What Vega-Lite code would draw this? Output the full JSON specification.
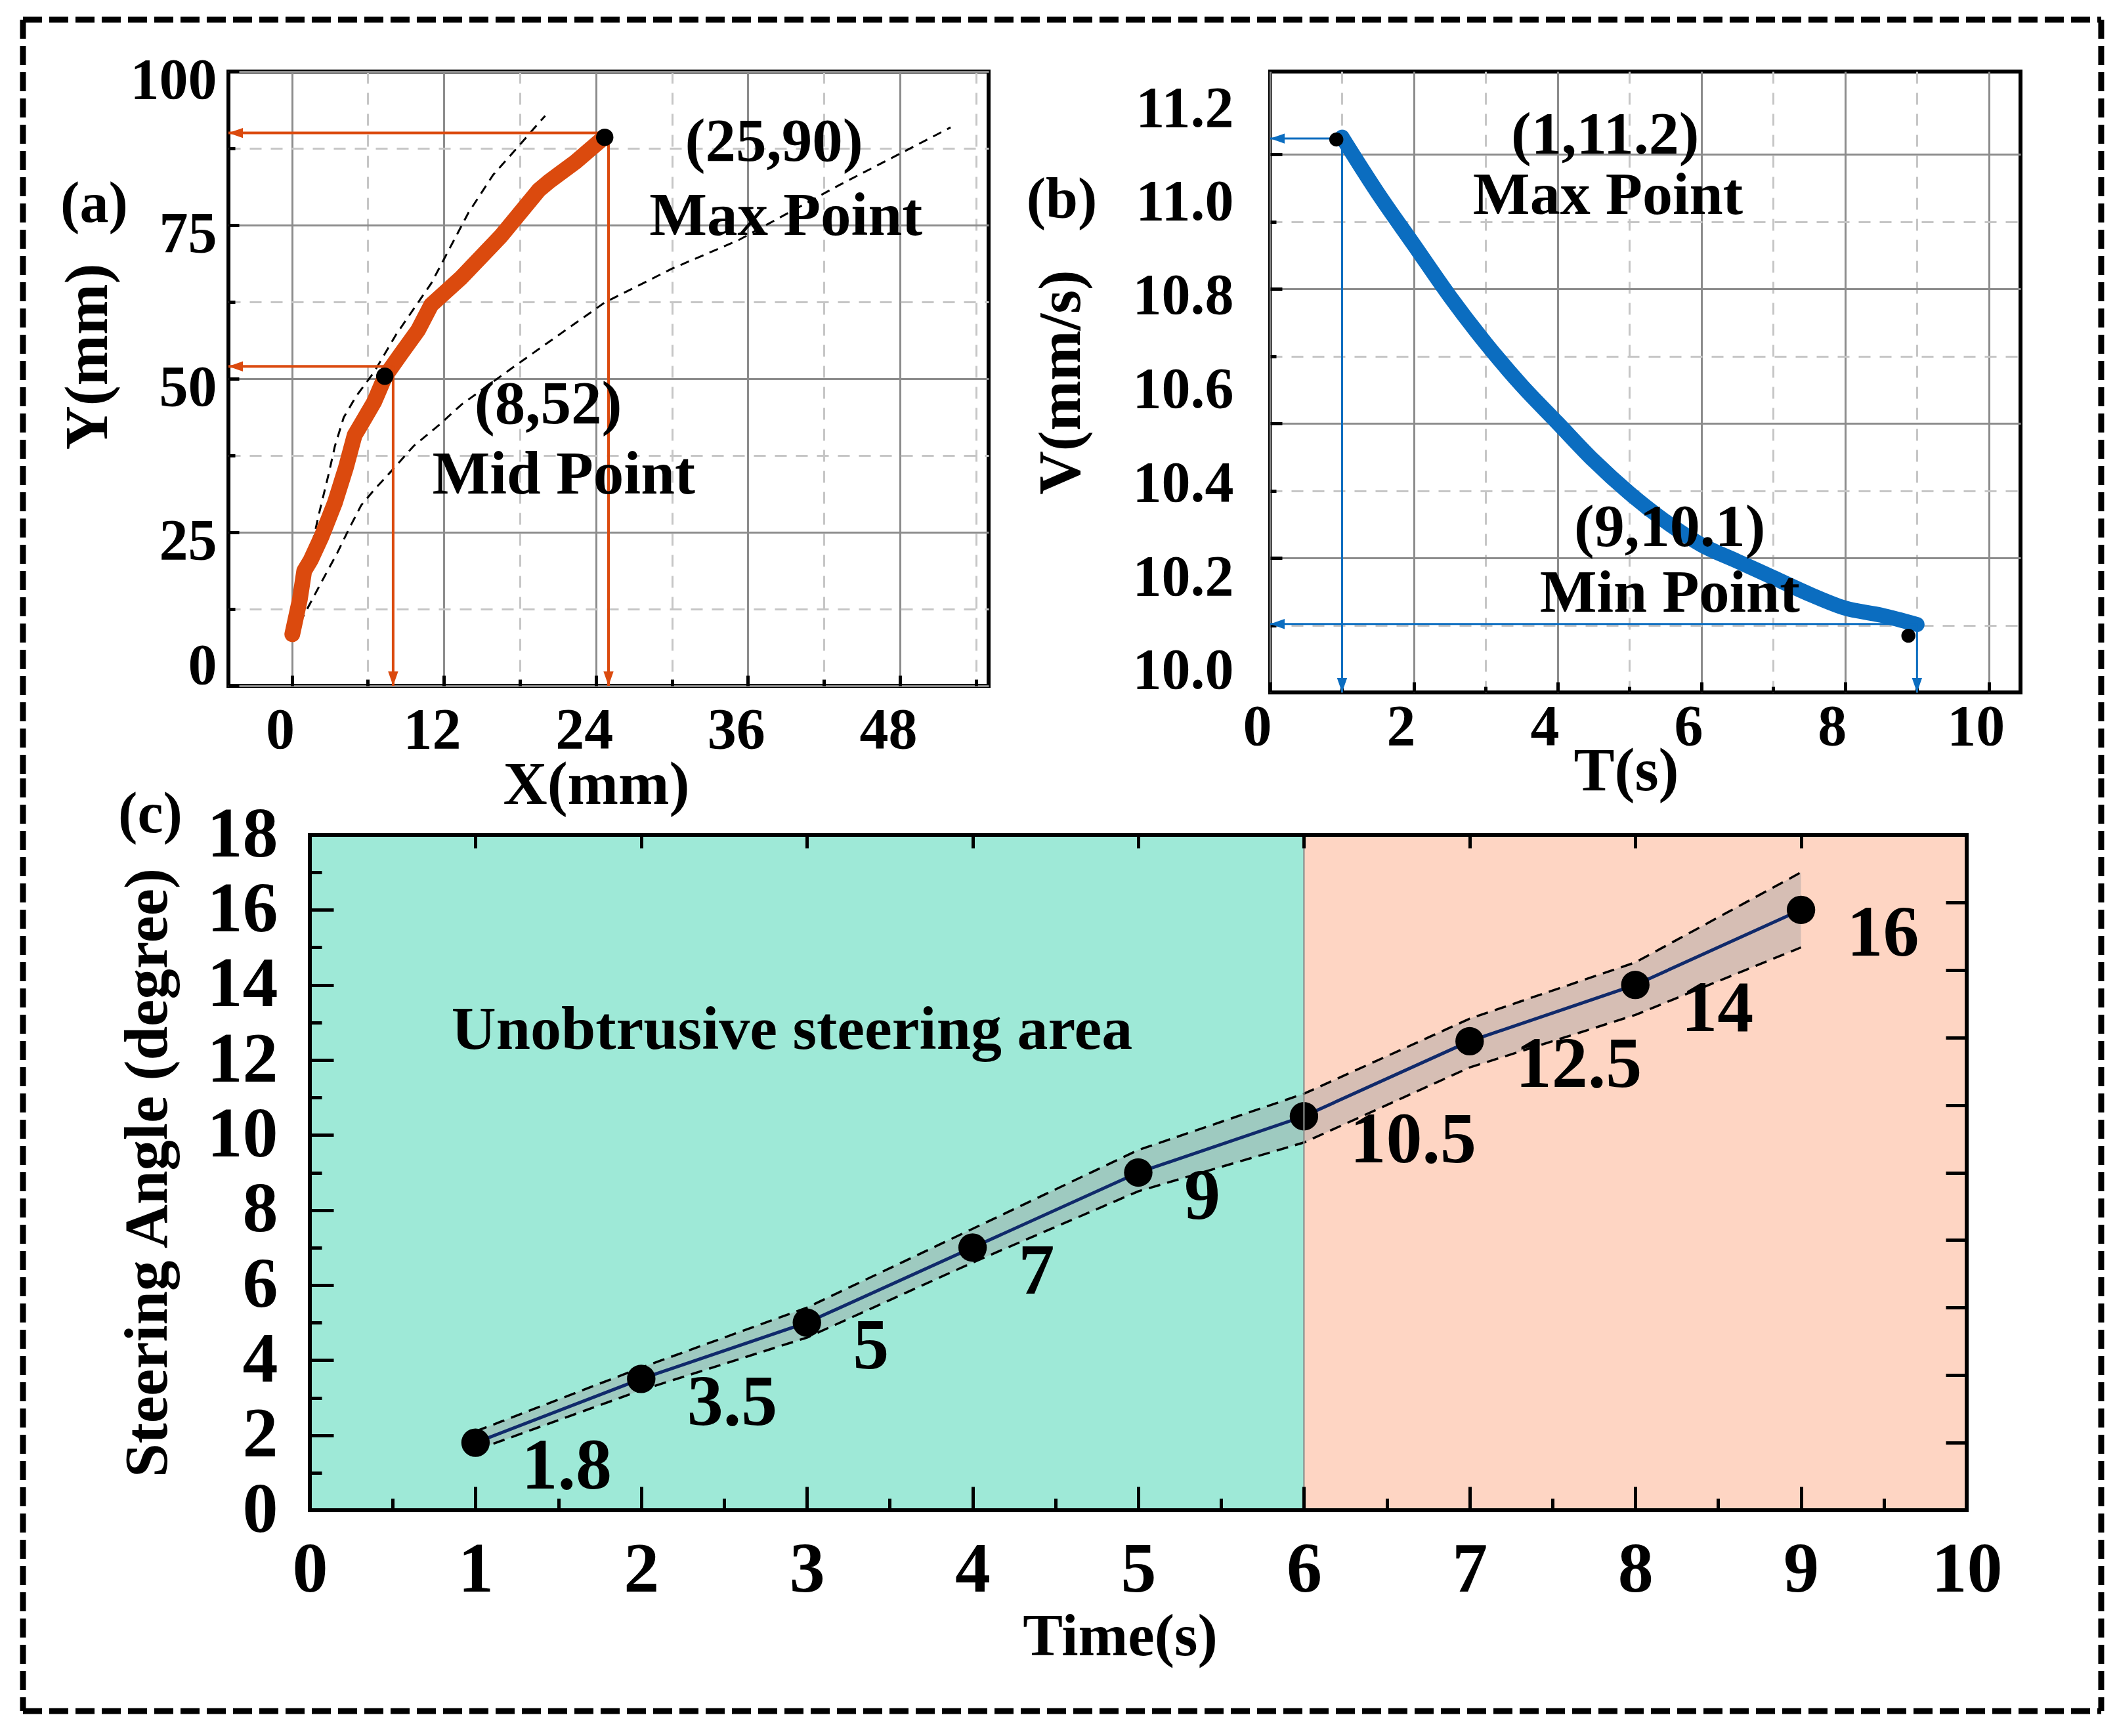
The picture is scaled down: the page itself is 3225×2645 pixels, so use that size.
{
  "$schema": "https://vega.github.io/schema/vega-lite/v6.json",
  "background": "white",
  "padding": {"left": 27, "top": 22, "right": 10, "bottom": 10},
  "spacing": -65,
  "datasets": {
    "pathA": [
      {"x": 0.04, "y": 8.4}, {"x": 0.64, "y": 14.1}, {"x": 0.98, "y": 18.7}, {"x": 1.5, "y": 20.5},
      {"x": 2.37, "y": 24.4}, {"x": 3.4, "y": 29.8}, {"x": 4.27, "y": 35.5}, {"x": 4.96, "y": 40.8},
      {"x": 5.48, "y": 42.6}, {"x": 6.5, "y": 46.2}, {"x": 7.37, "y": 50.4}, {"x": 8.6, "y": 54},
      {"x": 9.97, "y": 57.9}, {"x": 11.0, "y": 62}, {"x": 13.4, "y": 66.5}, {"x": 16.5, "y": 73.2},
      {"x": 19.5, "y": 80.7}, {"x": 20.3, "y": 82.1}, {"x": 22.4, "y": 85.3}, {"x": 24.6, "y": 89.2}
    ],
    "boundsA": [
      {"side": "upper", "x": 0.04, "y": 8}, {"side": "upper", "x": 2.1, "y": 27.6}, {"side": "upper", "x": 2.9, "y": 34.4},
      {"side": "upper", "x": 3.4, "y": 39}, {"side": "upper", "x": 4.1, "y": 43.7}, {"side": "upper", "x": 5.1, "y": 47.2},
      {"side": "upper", "x": 6.5, "y": 51.1}, {"side": "upper", "x": 8.24, "y": 57.2}, {"side": "upper", "x": 11, "y": 65.5},
      {"side": "upper", "x": 13.94, "y": 77}, {"side": "upper", "x": 15.9, "y": 83.2}, {"side": "upper", "x": 17.5, "y": 86.9},
      {"side": "upper", "x": 19.1, "y": 90.7}, {"side": "upper", "x": 20, "y": 92.8},
      {"side": "lower", "x": 0.04, "y": 8}, {"side": "lower", "x": 1.16, "y": 12.3}, {"side": "lower", "x": 2.37, "y": 17},
      {"side": "lower", "x": 3.58, "y": 21.6}, {"side": "lower", "x": 4.6, "y": 25.9}, {"side": "lower", "x": 5.48, "y": 29.4},
      {"side": "lower", "x": 6.5, "y": 31.9}, {"side": "lower", "x": 8.1, "y": 35.5}, {"side": "lower", "x": 9.6, "y": 39},
      {"side": "lower", "x": 11.7, "y": 42.6}, {"side": "lower", "x": 13.4, "y": 45.8}, {"side": "lower", "x": 17.7, "y": 52.2},
      {"side": "lower", "x": 21.4, "y": 57.6}, {"side": "lower", "x": 24.7, "y": 62.4}, {"side": "lower", "x": 30, "y": 67.9},
      {"side": "lower", "x": 35.3, "y": 72.6}, {"side": "lower", "x": 43.2, "y": 81.5}, {"side": "lower", "x": 52, "y": 90.9}
    ],
    "arrowsA": [{"x": 8, "y": 52}, {"x": 25, "y": 90}],
    "dotsA": [{"x": 7.34, "y": 50.4}, {"x": 24.7, "y": 89.3}],
    "notesA": [
      {"x": 38.06, "y": 88.5, "label": "(25,90)"},
      {"x": 39.0, "y": 76.4, "label": "Max Point"},
      {"x": 20.24, "y": 45.76, "label": "(8,52)"},
      {"x": 21.46, "y": 34.26, "label": "Mid Point"}
    ],
    "curveB": [
      {"t": 1.0, "v": 11.14}, {"t": 1.5, "v": 11.02}, {"t": 2.0, "v": 10.91}, {"t": 2.5, "v": 10.8},
      {"t": 3.0, "v": 10.7}, {"t": 3.5, "v": 10.61}, {"t": 4.0, "v": 10.53}, {"t": 4.5, "v": 10.45},
      {"t": 5.0, "v": 10.38}, {"t": 5.5, "v": 10.32}, {"t": 6.0, "v": 10.27}, {"t": 6.5, "v": 10.235},
      {"t": 7.0, "v": 10.2}, {"t": 7.5, "v": 10.165}, {"t": 8.0, "v": 10.135}, {"t": 8.5, "v": 10.12},
      {"t": 9.0, "v": 10.1}
    ],
    "arrowsB": [{"t": 1.0, "v": 11.137}, {"t": 9.0, "v": 10.101}],
    "dotsB": [{"t": 0.92, "v": 11.135}, {"t": 8.88, "v": 10.076}],
    "notesB": [
      {"t": 4.66, "v": 11.144, "label": "(1,11.2)"},
      {"t": 4.7, "v": 11.015, "label": "Max Point"},
      {"t": 5.56, "v": 10.307, "label": "(9,10.1)"},
      {"t": 5.56, "v": 10.167, "label": "Min Point"}
    ],
    "zonesC": [
      {"start": 0, "end": 6, "zone": "Unobtrusive"},
      {"start": 6, "end": 10, "zone": "Obtrusive"}
    ],
    "angleC": [
      {"t": 1, "angle": 1.8, "lo": 1.6, "hi": 2.1},
      {"t": 2, "angle": 3.5, "lo": 3.2, "hi": 3.8},
      {"t": 3, "angle": 5, "lo": 4.6, "hi": 5.4},
      {"t": 4, "angle": 7, "lo": 6.6, "hi": 7.5},
      {"t": 5, "angle": 9, "lo": 8.5, "hi": 9.6},
      {"t": 6, "angle": 10.5, "lo": 9.8, "hi": 11.1},
      {"t": 7, "angle": 12.5, "lo": 11.8, "hi": 13.1},
      {"t": 8, "angle": 14, "lo": 13.2, "hi": 14.6},
      {"t": 9, "angle": 16, "lo": 15, "hi": 17}
    ]
  },
  "vconcat": [
    {
      "bounds": "flush",
      "spacing": 429,
      "hconcat": [
        {
          "width": 1158,
          "height": 936,
          "resolve": {"axis": {"x": "independent", "y": "independent"}},
          "layer": [
            {
              "data": {"name": "boundsA"},
              "mark": {"type": "line", "stroke": "black", "strokeWidth": 3, "strokeDash": [14, 10]},
              "encoding": {
                "x": {
                  "field": "x", "type": "quantitative",
                  "scale": {"domain": [-5, 55]},
                  "axis": {
                    "values": [0, 6, 12, 18, 24, 30, 36, 42, 48, 54],
                    "format": ".0f",
                    "labelExpr": "datum.value % 12 == 0 ? datum.label : ''",
                    "grid": true, "gridWidth": 3,
                    "gridColor": {"condition": {"test": "datum.value % 12 != 0", "value": "#c6c6c6"}, "value": "#8c8c8c"},
                    "gridDash": {"condition": {"test": "datum.value % 12 != 0", "value": [18, 14]}, "value": []},
                    "tickSize": {"condition": {"test": "datum.value % 12 != 0", "value": -10}, "value": -16},
                    "labelFontSize": 88, "labelPadding": 40, "labelOffset": -18,
                    "title": "X(mm)", "titleFontSize": 93, "titlePadding": -12, "titleX": 560
                  }
                },
                "y": {
                  "field": "y", "type": "quantitative",
                  "scale": {"domain": [0, 100]},
                  "axis": {
                    "values": [0, 12.5, 25, 37.5, 50, 62.5, 75, 87.5, 100],
                    "format": ".0f",
                    "labelExpr": "datum.value % 25 == 0 ? datum.label : ''",
                    "grid": true, "gridWidth": 3,
                    "gridColor": {"condition": {"test": "datum.value % 25 != 0", "value": "#c6c6c6"}, "value": "#8c8c8c"},
                    "gridDash": {"condition": {"test": "datum.value % 25 != 0", "value": [18, 14]}, "value": []},
                    "tickSize": {"condition": {"test": "datum.value % 25 != 0", "value": -10}, "value": -16},
                    "labelFontSize": 88, "labelPadding": 34,
                    "labelOffset": {"condition": {"test": "datum.value == 0", "value": -30}, "value": 14},
                    "title": "Y(mm)", "titleFontSize": 93, "titlePadding": 16, "titleY": 434
                  }
                },
                "detail": {"field": "side"}
              }
            },
            {
              "data": {"name": "pathA"},
              "mark": {"type": "line", "stroke": "#db4a0e", "strokeWidth": 24, "strokeCap": "round", "strokeJoin": "round"},
              "encoding": {
                "x": {"field": "x", "type": "quantitative", "scale": {"domain": [-5, 55]}, "axis": null},
                "y": {"field": "y", "type": "quantitative", "scale": {"domain": [0, 100]}, "axis": null}
              }
            },
            {
              "data": {"name": "arrowsA"},
              "mark": {"type": "rule", "stroke": "#db4a0e", "strokeWidth": 4},
              "encoding": {
                "x": {"field": "x", "type": "quantitative", "scale": {"domain": [-5, 55]}, "axis": null},
                "x2": {"datum": -5},
                "y": {"field": "y", "type": "quantitative", "scale": {"domain": [0, 100]}, "axis": null}
              }
            },
            {
              "data": {"name": "arrowsA"},
              "mark": {"type": "rule", "stroke": "#db4a0e", "strokeWidth": 4},
              "encoding": {
                "x": {"field": "x", "type": "quantitative", "scale": {"domain": [-5, 55]}, "axis": null},
                "y": {"field": "y", "type": "quantitative", "scale": {"domain": [0, 100]}, "axis": null},
                "y2": {"datum": 0}
              }
            },
            {
              "data": {"name": "arrowsA"},
              "mark": {"type": "point", "shape": "M0,0L2,-0.7L2,0.7Z", "size": 484, "filled": true, "opacity": 1, "color": "#db4a0e"},
              "encoding": {
                "x": {"datum": -5, "type": "quantitative", "scale": {"domain": [-5, 55]}, "axis": null},
                "y": {"field": "y", "type": "quantitative", "scale": {"domain": [0, 100]}, "axis": null}
              }
            },
            {
              "data": {"name": "arrowsA"},
              "mark": {"type": "point", "shape": "M0,0L-0.7,-2L0.7,-2Z", "size": 484, "filled": true, "opacity": 1, "color": "#db4a0e"},
              "encoding": {
                "x": {"field": "x", "type": "quantitative", "scale": {"domain": [-5, 55]}, "axis": null},
                "y": {"datum": 0, "type": "quantitative", "scale": {"domain": [0, 100]}, "axis": null}
              }
            },
            {
              "data": {"name": "dotsA"},
              "mark": {"type": "point", "shape": "circle", "size": 700, "filled": true, "opacity": 1, "color": "black"},
              "encoding": {
                "x": {"field": "x", "type": "quantitative", "scale": {"domain": [-5, 55]}, "axis": null},
                "y": {"field": "y", "type": "quantitative", "scale": {"domain": [0, 100]}, "axis": null}
              }
            },
            {
              "data": {"name": "notesA"},
              "mark": {"type": "text", "fontSize": 93, "align": "center", "baseline": "middle"},
              "encoding": {
                "x": {"field": "x", "type": "quantitative", "scale": {"domain": [-5, 55]}, "axis": null},
                "y": {"field": "y", "type": "quantitative", "scale": {"domain": [0, 100]}, "axis": null},
                "text": {"field": "label"}
              }
            },
            {
              "data": {"values": [{}]},
              "mark": {"type": "text", "text": "(a)", "fontSize": 88, "align": "center", "baseline": "middle", "clip": false},
              "encoding": {
                "x": {"datum": -15.6, "type": "quantitative", "scale": {"domain": [-5, 55]}, "axis": null},
                "y": {"datum": 78.3, "type": "quantitative", "scale": {"domain": [0, 100]}, "axis": null}
              }
            },
            {
              "data": {"values": [{}]},
              "mark": {"type": "rule", "stroke": "black", "strokeWidth": 9, "strokeDash": [29, 11], "clip": false},
              "encoding": {
                "x": {"datum": -21.22, "type": "quantitative", "scale": {"domain": [-5, 55]}, "axis": null},
                "x2": {"datum": 142.82},
                "y": {"datum": 108.44, "type": "quantitative", "scale": {"domain": [0, 100]}, "axis": null}
              }
            },
            {
              "data": {"values": [{}]},
              "mark": {"type": "rule", "stroke": "black", "strokeWidth": 9, "strokeDash": [29, 11], "clip": false},
              "encoding": {
                "x": {"datum": -21.22, "type": "quantitative", "scale": {"domain": [-5, 55]}, "axis": null},
                "y": {"datum": 108.44, "type": "quantitative", "scale": {"domain": [0, 100]}, "axis": null},
                "y2": {"datum": -14.74}
              }
            },
            {
              "data": {"values": [{}]},
              "mark": {"type": "rule", "stroke": "black", "strokeWidth": 9, "strokeDash": [29, 11], "clip": false},
              "encoding": {
                "x": {"datum": 142.82, "type": "quantitative", "scale": {"domain": [-5, 55]}, "axis": null},
                "y": {"datum": 108.44, "type": "quantitative", "scale": {"domain": [0, 100]}, "axis": null},
                "y2": {"datum": -14.74}
              }
            }
          ]
        },
        {
          "width": 1143,
          "height": 946,
          "resolve": {"axis": {"x": "independent", "y": "independent"}},
          "layer": [
            {
              "data": {"name": "curveB"},
              "mark": {"type": "line", "stroke": "#0b6dc0", "strokeWidth": 23, "strokeCap": "round", "strokeJoin": "round", "interpolate": "monotone"},
              "encoding": {
                "x": {
                  "field": "t", "type": "quantitative",
                  "scale": {"domain": [0, 10.44]},
                  "axis": {
                    "values": [0, 1, 2, 3, 4, 5, 6, 7, 8, 9, 10],
                    "labelExpr": "datum.value % 2 == 0 ? datum.label : ''",
                    "grid": true, "gridWidth": 3,
                    "gridColor": {"condition": {"test": "datum.value % 2 != 0", "value": "#c6c6c6"}, "value": "#8c8c8c"},
                    "gridDash": {"condition": {"test": "datum.value % 2 != 0", "value": [18, 14]}, "value": []},
                    "tickSize": {"condition": {"test": "datum.value % 2 != 0", "value": -9}, "value": -16},
                    "labelFontSize": 88, "labelPadding": 25, "labelOffset": -20,
                    "title": "T(s)", "titleFontSize": 93, "titlePadding": -29, "titleX": 542
                  }
                },
                "y": {
                  "field": "v", "type": "quantitative",
                  "scale": {"domain": [9.955, 11.28]},
                  "axis": {
                    "orient": "left",
                    "values": [10.098, 10.242, 10.385, 10.529, 10.672, 10.816, 10.959, 11.103],
                    "labels": false,
                    "grid": true, "gridWidth": 3,
                    "gridColor": {"condition": {"test": "indexof([10.098, 10.385, 10.672, 10.959], datum.value) >= 0", "value": "#c6c6c6"}, "value": "#8c8c8c"},
                    "gridDash": {"condition": {"test": "indexof([10.098, 10.385, 10.672, 10.959], datum.value) >= 0", "value": [18, 14]}, "value": []},
                    "tickSize": {"condition": {"test": "indexof([10.098, 10.385, 10.672, 10.959], datum.value) >= 0", "value": -9}, "value": -18},
                    "title": null
                  }
                }
              }
            },
            {
              "data": {"name": "arrowsB"},
              "mark": {"type": "rule", "stroke": "#0b6dc0", "strokeWidth": 3},
              "encoding": {
                "x": {"field": "t", "type": "quantitative", "scale": {"domain": [0, 10.44]}, "axis": null},
                "x2": {"datum": 0},
                "y": {
                  "field": "v", "type": "quantitative",
                  "scale": {"domain": [9.955, 11.28]},
                  "axis": {
                    "orient": "left",
                    "values": [10, 10.2, 10.4, 10.6, 10.8, 11, 11.2],
                    "format": ".1f",
                    "grid": false, "ticks": false,
                    "labelFontSize": 88, "labelPadding": 56,
                    "title": "V(mm/s)", "titleFontSize": 92, "titlePadding": 72
                  }
                }
              }
            },
            {
              "data": {"name": "arrowsB"},
              "mark": {"type": "rule", "stroke": "#0b6dc0", "strokeWidth": 3},
              "encoding": {
                "x": {"field": "t", "type": "quantitative", "scale": {"domain": [0, 10.44]}, "axis": null},
                "y": {"field": "v", "type": "quantitative", "scale": {"domain": [9.955, 11.28]}, "axis": null},
                "y2": {"datum": 9.955}
              }
            },
            {
              "data": {"name": "arrowsB"},
              "mark": {"type": "point", "shape": "M0,0L2,-0.7L2,0.7Z", "size": 484, "filled": true, "opacity": 1, "color": "#0b6dc0"},
              "encoding": {
                "x": {"datum": 0, "type": "quantitative", "scale": {"domain": [0, 10.44]}, "axis": null},
                "y": {"field": "v", "type": "quantitative", "scale": {"domain": [9.955, 11.28]}, "axis": null}
              }
            },
            {
              "data": {"name": "arrowsB"},
              "mark": {"type": "point", "shape": "M0,0L-0.7,-2L0.7,-2Z", "size": 484, "filled": true, "opacity": 1, "color": "#0b6dc0"},
              "encoding": {
                "x": {"field": "t", "type": "quantitative", "scale": {"domain": [0, 10.44]}, "axis": null},
                "y": {"datum": 9.955, "type": "quantitative", "scale": {"domain": [9.955, 11.28]}, "axis": null}
              }
            },
            {
              "data": {"name": "dotsB"},
              "mark": {"type": "point", "shape": "circle", "size": 460, "filled": true, "opacity": 1, "color": "black"},
              "encoding": {
                "x": {"field": "t", "type": "quantitative", "scale": {"domain": [0, 10.44]}, "axis": null},
                "y": {"field": "v", "type": "quantitative", "scale": {"domain": [9.955, 11.28]}, "axis": null}
              }
            },
            {
              "data": {"name": "notesB"},
              "mark": {"type": "text", "fontSize": 92, "align": "center", "baseline": "middle"},
              "encoding": {
                "x": {"field": "t", "type": "quantitative", "scale": {"domain": [0, 10.44]}, "axis": null},
                "y": {"field": "v", "type": "quantitative", "scale": {"domain": [9.955, 11.28]}, "axis": null},
                "text": {"field": "label"}
              }
            },
            {
              "data": {"values": [{}]},
              "mark": {"type": "text", "text": "(b)", "fontSize": 88, "align": "center", "baseline": "middle", "clip": false},
              "encoding": {
                "x": {"datum": -2.9, "type": "quantitative", "scale": {"domain": [0, 10.44]}, "axis": null},
                "y": {"datum": 11.004, "type": "quantitative", "scale": {"domain": [9.955, 11.28]}, "axis": null}
              }
            }
          ]
        }
      ]
    },
    {
      "width": 2648,
      "height": 1029,
      "view": {"stroke": null},
      "resolve": {"axis": {"x": "independent", "y": "independent"}},
      "layer": [
        {
          "data": {"name": "zonesC"},
          "mark": {"type": "rect"},
          "encoding": {
            "x": {
              "field": "start", "type": "quantitative",
              "scale": {"domain": [-0.4913, 10]},
              "axis": {
                "orient": "bottom",
                "values": [0, 0.5, 1, 1.5, 2, 2.5, 3, 3.5, 4, 4.5, 5, 5.5, 6, 6.5, 7, 7.5, 8, 8.5, 9, 9.5, 10],
                "format": ".0f",
                "labelExpr": "datum.value % 1 == 0 ? datum.label : ''",
                "grid": false, "zindex": 1,
                "tickSize": {"condition": {"test": "datum.value % 1 != 0", "value": -18}, "value": -36},
                "labelFontSize": 108, "labelPadding": 74,
                "title": "Time(s)", "titleFontSize": 91, "titlePadding": -15, "titleX": 1358
              }
            },
            "x2": {"field": "end"},
            "fill": {
              "field": "zone", "type": "nominal",
              "scale": {"domain": ["Unobtrusive", "Obtrusive"], "range": ["#9ee9d7", "#fed5c3"]},
              "legend": null
            }
          }
        },
        {
          "data": {"name": "angleC"},
          "mark": {"type": "area", "fill": "#a0a0a0", "fillOpacity": 0.42},
          "encoding": {
            "x": {
              "field": "t", "type": "quantitative",
              "scale": {"domain": [-0.4913, 10]},
              "axis": {
                "orient": "top",
                "values": [1, 2, 3, 4, 5, 6, 7, 8, 9],
                "labels": false, "grid": false, "zindex": 1,
                "tickSize": -20, "title": null
              }
            },
            "y": {
              "field": "lo", "type": "quantitative",
              "scale": {"domain": [0, 18]},
              "axis": {
                "orient": "left",
                "offset": -124,
                "values": [0, 1, 2, 3, 4, 5, 6, 7, 8, 9, 10, 11, 12, 13, 14, 15, 16, 17, 18],
                "labelExpr": "datum.value % 2 == 0 ? datum.label : ''",
                "grid": false, "zindex": 1,
                "tickSize": {"condition": {"test": "datum.value % 2 != 0", "value": -18}, "value": -36},
                "labelFontSize": 108, "labelPadding": 85,
                "title": "Steering Angle (degree)", "titleFontSize": 93, "titlePadding": 42
              }
            },
            "y2": {"field": "hi"}
          }
        },
        {
          "data": {"name": "angleC"},
          "transform": [{"fold": ["lo", "hi"], "as": ["edge", "bound"]}],
          "mark": {"type": "line", "stroke": "black", "strokeWidth": 3.5, "strokeDash": [18, 11]},
          "encoding": {
            "x": {"field": "t", "type": "quantitative", "scale": {"domain": [-0.4913, 10]}, "axis": null},
            "y": {
              "field": "bound", "type": "quantitative",
              "scale": {"domain": [0, 18]},
              "axis": {
                "orient": "right",
                "values": [1.8, 3.6, 5.4, 7.2, 9, 10.8, 12.6, 14.4, 16.2],
                "labels": false, "grid": false, "zindex": 1,
                "tickSize": -32, "title": null
              }
            },
            "detail": {"field": "edge"}
          }
        },
        {
          "data": {"name": "angleC"},
          "mark": {"type": "line", "stroke": "#102a6b", "strokeWidth": 5},
          "encoding": {
            "x": {"field": "t", "type": "quantitative", "scale": {"domain": [-0.4913, 10]}, "axis": null},
            "y": {"field": "angle", "type": "quantitative", "scale": {"domain": [0, 18]}, "axis": null}
          }
        },
        {
          "data": {"name": "angleC"},
          "mark": {"type": "point", "shape": "circle", "size": 1880, "filled": true, "opacity": 1, "color": "black"},
          "encoding": {
            "x": {"field": "t", "type": "quantitative", "scale": {"domain": [-0.4913, 10]}, "axis": null},
            "y": {"field": "angle", "type": "quantitative", "scale": {"domain": [0, 18]}, "axis": null}
          }
        },
        {
          "data": {"values": [{}]},
          "mark": {"type": "rule", "stroke": "#8a8f8c", "strokeWidth": 2.2},
          "encoding": {
            "x": {"datum": 6, "type": "quantitative", "scale": {"domain": [-0.4913, 10]}, "axis": null}
          }
        },
        {
          "data": {"name": "angleC"},
          "mark": {"type": "text", "fontSize": 110, "align": "left", "baseline": "middle", "dx": 70, "dy": 37},
          "encoding": {
            "x": {"field": "t", "type": "quantitative", "scale": {"domain": [-0.4913, 10]}, "axis": null},
            "y": {"field": "angle", "type": "quantitative", "scale": {"domain": [0, 18]}, "axis": null},
            "text": {"field": "angle", "type": "nominal"}
          }
        },
        {
          "data": {"values": [{}]},
          "mark": {"type": "text", "text": "Unobtrusive steering area", "fontSize": 94, "align": "center", "baseline": "middle"},
          "encoding": {
            "x": {"datum": 2.91, "type": "quantitative", "scale": {"domain": [-0.4913, 10]}, "axis": null},
            "y": {"datum": 12.79, "type": "quantitative", "scale": {"domain": [0, 18]}, "axis": null}
          }
        },
        {
          "data": {"values": [{}]},
          "mark": {"type": "text", "text": "(c)", "fontSize": 88, "align": "center", "baseline": "middle", "clip": false},
          "encoding": {
            "x": {"datum": -0.963, "type": "quantitative", "scale": {"domain": [-0.4913, 10]}, "axis": null},
            "y": {"datum": 18.52, "type": "quantitative", "scale": {"domain": [0, 18]}, "axis": null}
          }
        },
        {
          "data": {"values": [{}]},
          "mark": {"type": "rect", "filled": false, "color": "black", "strokeWidth": 6, "clip": false},
          "encoding": {
            "x": {"datum": 0, "type": "quantitative", "scale": {"domain": [-0.4913, 10]}, "axis": null},
            "x2": {"datum": 10},
            "y": {"datum": 0, "type": "quantitative", "scale": {"domain": [0, 18]}, "axis": null},
            "y2": {"datum": 18}
          }
        },
        {
          "data": {"values": [{}]},
          "mark": {"type": "rule", "stroke": "black", "strokeWidth": 9, "strokeDash": [29, 11], "clip": false},
          "encoding": {
            "x": {"datum": -1.7314, "type": "quantitative", "scale": {"domain": [-0.4913, 10]}, "axis": null},
            "y": {"datum": 19.503, "type": "quantitative", "scale": {"domain": [0, 18]}, "axis": null},
            "y2": {"datum": -5.352}
          }
        },
        {
          "data": {"values": [{}]},
          "mark": {"type": "rule", "stroke": "black", "strokeWidth": 9, "strokeDash": [29, 11], "clip": false},
          "encoding": {
            "x": {"datum": 10.812, "type": "quantitative", "scale": {"domain": [-0.4913, 10]}, "axis": null},
            "y": {"datum": 19.503, "type": "quantitative", "scale": {"domain": [0, 18]}, "axis": null},
            "y2": {"datum": -5.352}
          }
        },
        {
          "data": {"values": [{}]},
          "mark": {"type": "rule", "stroke": "black", "strokeWidth": 9, "strokeDash": [29, 11], "clip": false},
          "encoding": {
            "x": {"datum": -1.7314, "type": "quantitative", "scale": {"domain": [-0.4913, 10]}, "axis": null},
            "x2": {"datum": 10.812},
            "y": {"datum": -5.352, "type": "quantitative", "scale": {"domain": [0, 18]}, "axis": null}
          }
        }
      ]
    }
  ],
  "config": {
    "view": {"stroke": "black", "strokeWidth": 6},
    "axis": {
      "labelFont": "Liberation Serif", "labelFontWeight": "bold", "labelColor": "black", "labelAngle": 0,
      "titleFont": "Liberation Serif", "titleFontWeight": "bold", "titleColor": "black",
      "domain": false, "tickColor": "black", "tickWidth": 5,
      "labelOverlap": false, "labelFlush": false, "labelBound": false
    },
    "text": {"font": "Liberation Serif", "fontWeight": "bold", "color": "black"}
  }
}
